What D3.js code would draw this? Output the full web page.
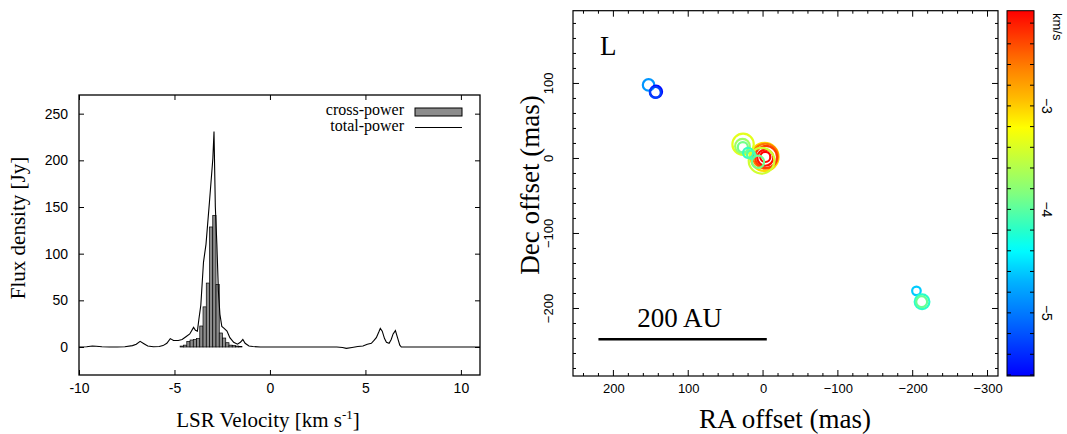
<!DOCTYPE html>
<html>
<head>
<meta charset="utf-8">
<script src="https://cdn.jsdelivr.net/npm/d3@7"></script>
<style>
  html, body { margin: 0; padding: 0; background: #fff; }
  svg { display: block; }
</style>
</head>
<body>
<svg id="chart" width="1067" height="434"></svg>
<script>
// ---------------- data ----------------
// Left panel: spectrum
const crossPowerVel  = [-4.62,-4.45,-4.27,-4.10,-3.93,-3.76,-3.59,-3.42,-3.25,-3.08,-2.91,-2.74,-2.57,-2.40,-2.23,-2.06,-1.89,-1.72,-1.55];
const crossPowerFlux = [1,2,6,7.5,8,9,22.5,43,68.5,128.6,141,67,15,9.6,4.6,2,1.5,1,0.5];
const channelWidth = 0.17;
// total-power spectrum as [velocity, flux] pairs
const totalPower = [
  [-10,0],[-9.6,0.3],[-9.3,1],[-9.1,0.8],[-8.8,0.3],[-8.4,0],[-8,0],[-7.6,0.3],[-7.2,1.5],[-7.0,3],
  [-6.8,6],[-6.6,3.5],[-6.4,1],[-6.1,0.3],[-5.8,0.5],[-5.6,1.5],[-5.4,4],[-5.22,9],[-5.05,7],[-4.8,7],
  [-4.6,8],[-4.4,11],[-4.2,14],[-4.0,21],[-3.9,18],[-3.8,17],[-3.72,30],[-3.62,45],[-3.48,91],[-3.35,110],
  [-3.17,155],[-2.99,202],[-2.93,231],[-2.86,150],[-2.78,110],[-2.70,60],[-2.62,35],[-2.52,22],[-2.40,20],[-2.25,17],
  [-2.1,10],[-1.9,5],[-1.7,3],[-1.55,5],[-1.42,8],[-1.3,4],[-1.1,1],[-0.9,0.5],[-0.5,0],[0,0],
  [0.5,0],[1,0],[1.5,0],[2,0],[2.5,0],[3,0],[3.5,0],[3.8,-0.5],[4.0,-1.5],[4.3,-0.5],
  [4.6,0.5],[4.87,1],[5.1,3],[5.31,4],[5.45,7],[5.57,10],[5.7,16],[5.78,20],[5.88,17],[6.0,9],
  [6.1,5],[6.24,4],[6.35,8],[6.45,14],[6.57,17.6],[6.68,10],[6.8,2],[6.88,0],[7.2,0],[8,0],
  [9,0],[10,0],[11,0]
];
const xTicksLeft = [-10,-5,0,5,10];
const yTicksLeft = [0,50,100,150,200,250];
const legendLabels = ["cross-power","total-power"];

// Right panel: maser spot map
const spotRA   = [153, 143, 144, -2, -3, -4, -3, -3, 2, 6.7, 26.7, 27.5, 27, 20, 16, -205, -212.5, -212];
const spotDec  = [98, 89, 88, 2, 3, 2, 1, 2, -3, -4.5, 19, 16.3, 15, 7.5, 5, -176.5, -191, -191];
const spotVel  = [-4.85, -5.55, -5.3, -3.05, -2.6, -2.35, -2.15, -2.08, -3.45, -3.9, -3.35, -3.7, -3.9, -4.15, -4.05, -4.6, -4.2, -3.95];
const spotFlux = [22, 24, 20, 131, 104, 81, 43, 17, 110, 25, 76, 36, 17, 17, 11, 12.3, 36, 20];
const raTicks  = [200, 100, 0, -100, -200, -300];
const decTicks = [100, 0, -100, -200];
const velTicks = [-3, -4, -5];
const velRange = [-2.08, -5.61];
const colorStopsVel = [-2.08,-2.63,-2.95,-3.21,-3.53,-3.85,-4.23,-4.39,-4.71,-5.05,-5.61];
const colorStopsCol = ["#ff0000","#ff8000","#ffc000","#ffff00","#c0ff40","#80ff80","#20ffd0","#00ffff","#00b0ff","#0070ff","#0000ff"];
const scaleBarRA = [220, -5];
const scaleBarDec = -241;
const scaleBarLabel = "200 AU";
const panelLabel = "L";

// ---------------- drawing ----------------
const svg = d3.select("#chart");
const serif = "'Liberation Serif', 'Times New Roman', serif";
const sans = "'Liberation Sans', Arial, sans-serif";

// ===== Left panel =====
const L = {x0: 79, x1: 480, y0: 95, y1: 375};
const xL = d3.scaleLinear().domain([-10, 11]).range([L.x0, L.x1]);
const yL = d3.scaleLinear().domain([-30, 270]).range([L.y1, L.y0]);
const gL = svg.append("g");

// bars
gL.append("g").selectAll("rect").data(crossPowerVel).join("rect")
  .attr("x", (v) => xL(v - channelWidth / 2))
  .attr("width", (v) => xL(v + channelWidth / 2) - xL(v - channelWidth / 2))
  .attr("y", (v, i) => yL(crossPowerFlux[i]))
  .attr("height", (v, i) => yL(0) - yL(crossPowerFlux[i]))
  .attr("fill", "#8c8c8c").attr("stroke", "#000").attr("stroke-width", 0.7);

// total-power line
gL.append("path").datum(totalPower)
  .attr("d", d3.line().x(d => xL(d[0])).y(d => yL(d[1])))
  .attr("fill", "none").attr("stroke", "#000").attr("stroke-width", 1.1);

// axes
function styleAxis(g, font, size) {
  g.select(".domain").remove();
  g.selectAll("line").attr("stroke", "#000").attr("stroke-width", 1);
  g.selectAll("text").attr("font-family", font).attr("font-size", size).attr("fill", "#000");
}
gL.append("g").attr("transform", `translate(0,${L.y1})`)
  .call(d3.axisBottom(xL).tickValues(xTicksLeft).tickSize(-5).tickPadding(8).tickFormat(d => String(d)))
  .call(g => styleAxis(g, sans, 14));
gL.append("g").attr("transform", `translate(0,${L.y0})`)
  .call(d3.axisTop(xL).tickValues(xTicksLeft).tickSize(-5).tickFormat(""))
  .call(g => styleAxis(g, sans, 14));
gL.append("g").attr("transform", `translate(${L.x0},0)`)
  .call(d3.axisLeft(yL).tickValues(yTicksLeft).tickSize(-5).tickPadding(11))
  .call(g => styleAxis(g, sans, 14));
gL.append("g").attr("transform", `translate(${L.x1},0)`)
  .call(d3.axisRight(yL).tickValues(yTicksLeft).tickSize(-5).tickFormat(""))
  .call(g => styleAxis(g, sans, 14));
gL.append("rect").attr("x", L.x0).attr("y", L.y0).attr("width", L.x1 - L.x0).attr("height", L.y1 - L.y0)
  .attr("fill", "none").attr("stroke", "#000").attr("stroke-width", 1.3);

// legend
gL.append("text").attr("x", 404).attr("y", 115).attr("text-anchor", "end")
  .attr("font-family", serif).attr("font-size", 16).text(legendLabels[0]);
gL.append("rect").attr("x", 415).attr("y", 108).attr("width", 47).attr("height", 8)
  .attr("fill", "#8c8c8c").attr("stroke", "#000").attr("stroke-width", 1);
gL.append("text").attr("x", 404).attr("y", 131).attr("text-anchor", "end")
  .attr("font-family", serif).attr("font-size", 16).text(legendLabels[1]);
gL.append("line").attr("x1", 415).attr("x2", 462).attr("y1", 127.5).attr("y2", 127.5)
  .attr("stroke", "#000").attr("stroke-width", 1.1);

// axis titles
const xt = gL.append("text").attr("x", 268).attr("y", 427).attr("text-anchor", "middle")
  .attr("font-family", serif).attr("font-size", 21);
xt.append("tspan").text("LSR Velocity [km s");
xt.append("tspan").attr("font-size", 13).attr("dy", -8).text("-1");
xt.append("tspan").attr("dy", 8).text("]");
gL.append("text").attr("transform", "translate(25,228) rotate(-90)").attr("text-anchor", "middle")
  .attr("font-family", serif).attr("font-size", 21).text("Flux density [Jy]");

// ===== Right panel =====
const R = {x0: 573, x1: 998, y0: 10.7, y1: 376};
const xR = d3.scaleLinear().domain([254, -314]).range([R.x0, R.x1]);
const yR = d3.scaleLinear().domain([-290, 197]).range([R.y1, R.y0]);
const color = d3.scaleLinear().domain(colorStopsVel).range(colorStopsCol).clamp(true);
const rScale = d3.scaleSqrt().domain([0, 150]).range([0, 15]);
const gR = svg.append("g");

// minor + major ticks, inward on all four sides
const raMinor = d3.range(-300, 260, 20);
const decMinor = d3.range(-280, 200, 20);
function tickLen(v) { return (Math.abs(v % 100) < 1e-6) ? 6 : 3; }
const tk = gR.append("g").attr("stroke", "#000").attr("stroke-width", 1);
raMinor.forEach(v => {
  const x = xR(v);
  if (x < R.x0 || x > R.x1) return;
  tk.append("line").attr("x1", x).attr("x2", x).attr("y1", R.y1).attr("y2", R.y1 - tickLen(v));
  tk.append("line").attr("x1", x).attr("x2", x).attr("y1", R.y0).attr("y2", R.y0 + tickLen(v));
});
decMinor.forEach(v => {
  const y = yR(v);
  if (y < R.y0 || y > R.y1) return;
  tk.append("line").attr("y1", y).attr("y2", y).attr("x1", R.x0).attr("x2", R.x0 + tickLen(v));
  tk.append("line").attr("y1", y).attr("y2", y).attr("x1", R.x1).attr("x2", R.x1 - tickLen(v));
});
const fmtMinus = d => (d < 0 ? "\u2212" + Math.abs(d) : String(d));
gR.append("g").attr("transform", `translate(0,${R.y1})`)
  .call(d3.axisBottom(xR).tickValues(raTicks).tickSize(0).tickPadding(8).tickFormat(fmtMinus))
  .call(g => styleAxis(g, sans, 13));
gR.append("g").selectAll("text").data(decTicks).join("text")
  .attr("transform", d => `translate(552.5,${yR(d)}) rotate(-90)`)
  .attr("text-anchor", "middle").attr("font-family", sans).attr("font-size", 13)
  .text(fmtMinus);

// spots
const order = d3.range(spotRA.length);
gR.append("g").selectAll("circle").data(order).join("circle")
  .attr("cx", i => xR(spotRA[i])).attr("cy", i => yR(spotDec[i]))
  .attr("r", i => rScale(spotFlux[i]))
  .attr("fill", "none").attr("stroke", i => color(spotVel[i])).attr("stroke-width", 2.2);

gR.append("rect").attr("x", R.x0).attr("y", R.y0).attr("width", R.x1 - R.x0).attr("height", R.y1 - R.y0)
  .attr("fill", "none").attr("stroke", "#000").attr("stroke-width", 1.2);

// panel label and scale bar
gR.append("text").attr("x", 600).attr("y", 55).attr("font-family", serif).attr("font-size", 27).text(panelLabel);
gR.append("line").attr("x1", xR(scaleBarRA[0])).attr("x2", xR(scaleBarRA[1]))
  .attr("y1", yR(scaleBarDec)).attr("y2", yR(scaleBarDec)).attr("stroke", "#000").attr("stroke-width", 2.5);
gR.append("text").attr("x", (xR(scaleBarRA[0]) + xR(scaleBarRA[1])) / 2 - 3).attr("y", 327)
  .attr("text-anchor", "middle").attr("font-family", serif).attr("font-size", 27).text(scaleBarLabel);

// axis titles
gR.append("text").attr("x", 785).attr("y", 428).attr("text-anchor", "middle")
  .attr("font-family", serif).attr("font-size", 27).text("RA offset (mas)");
gR.append("text").attr("transform", "translate(539,185) rotate(-90)").attr("text-anchor", "middle")
  .attr("font-family", serif).attr("font-size", 27).text("Dec offset (mas)");

// ===== Colorbar =====
const CB = {x0: 1007, x1: 1034, y0: R.y0, y1: R.y1};
const yC = d3.scaleLinear().domain(velRange).range([CB.y0, CB.y1]);
const defs = svg.append("defs");
const grad = defs.append("linearGradient").attr("id", "cbar")
  .attr("x1", 0).attr("y1", 0).attr("x2", 0).attr("y2", 1);
d3.range(0, 1.0001, 0.02).forEach(t => {
  const v = velRange[0] + t * (velRange[1] - velRange[0]);
  grad.append("stop").attr("offset", t).attr("stop-color", color(v));
});
svg.append("rect").attr("x", CB.x0).attr("y", CB.y0).attr("width", CB.x1 - CB.x0).attr("height", CB.y1 - CB.y0)
  .attr("fill", "url(#cbar)");
const cbt = svg.append("g").attr("stroke", "#000").attr("stroke-width", 1);
d3.range(-2.2, -5.61, -0.2).forEach(v => {
  const y = yC(v);
  cbt.append("line").attr("x1", CB.x0).attr("x2", CB.x0 + 4).attr("y1", y).attr("y2", y);
  cbt.append("line").attr("x1", CB.x1).attr("x2", CB.x1 - 4).attr("y1", y).attr("y2", y);
});
svg.append("rect").attr("x", CB.x0).attr("y", CB.y0).attr("width", CB.x1 - CB.x0).attr("height", CB.y1 - CB.y0)
  .attr("fill", "none").attr("stroke", "#000").attr("stroke-width", 1);
svg.append("g").selectAll("text").data(velTicks).join("text")
  .attr("transform", d => `translate(1042,${yC(d)}) rotate(90)`)
  .attr("text-anchor", "middle").attr("font-family", sans).attr("font-size", 14)
  .text(fmtMinus);
svg.append("text").attr("transform", "translate(1053,13) rotate(90)")
  .attr("text-anchor", "start").attr("font-family", sans).attr("font-size", 13).text("km/s");
</script>
</body>
</html>
